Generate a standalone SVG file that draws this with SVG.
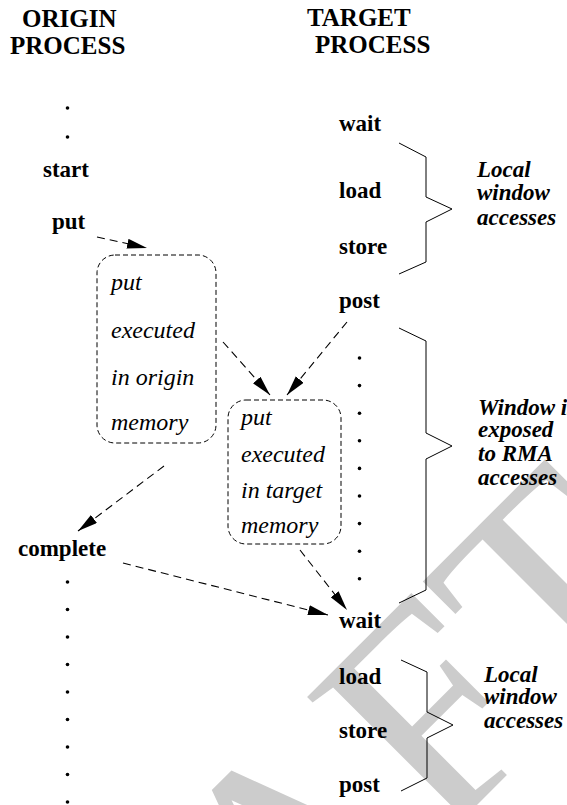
<svg xmlns="http://www.w3.org/2000/svg" width="567" height="805" viewBox="0 0 567 805" font-family="'Liberation Serif', 'Times New Roman', Times, serif">
<style>
text{font-family:'Liberation Serif','Times New Roman',Times,serif}
.hdr{font-weight:bold;font-size:25px;fill:#000}
.lbl{font-weight:bold;font-size:23px;fill:#000}
.it{font-style:italic;font-size:24px;fill:#000}
.bi{font-style:italic;font-weight:bold;font-size:23px;fill:#000}
.box{fill:none;stroke:#000;stroke-width:1;stroke-dasharray:5 3}
.dash{fill:none;stroke:#000;stroke-width:1.1;stroke-dasharray:8 5}
.brace{fill:none;stroke:#000;stroke-width:1}
.dot{fill:#000}
.wm{font-size:300px;fill:#cccccc}
</style>
<defs>
<marker id="ah" markerUnits="userSpaceOnUse" markerWidth="22" markerHeight="11" refX="20" refY="5" orient="auto">
<path d="M0,0 L20,5 L0,10 Z" fill="#000"/>
</marker>
</defs>
<g id="watermark">
<text class="wm" transform="translate(-8,1290) rotate(-45)">DRAFT</text>
</g>
<g id="headers">
<text class="hdr" x="22" y="27">ORIGIN</text>
<text class="hdr" x="10" y="54">PROCESS</text>
<text class="hdr" x="307" y="26">TARGET</text>
<text class="hdr" x="315" y="53">PROCESS</text>
</g>
<g id="origin-column">
<circle class="dot" cx="67.5" cy="108" r="1.8"/>
<circle class="dot" cx="67.5" cy="137" r="1.8"/>
<text class="lbl" x="43" y="177">start</text>
<text class="lbl" x="52" y="229">put</text>
<text class="lbl" x="18" y="556">complete</text>
<circle class="dot" cx="67.5" cy="582" r="1.8"/>
<circle class="dot" cx="67.5" cy="609.5" r="1.8"/>
<circle class="dot" cx="67.5" cy="637" r="1.8"/>
<circle class="dot" cx="67.5" cy="664.5" r="1.8"/>
<circle class="dot" cx="67.5" cy="692" r="1.8"/>
<circle class="dot" cx="67.5" cy="719.5" r="1.8"/>
<circle class="dot" cx="67.5" cy="747" r="1.8"/>
<circle class="dot" cx="67.5" cy="774.5" r="1.8"/>
<circle class="dot" cx="67.5" cy="802" r="1.8"/>
</g>
<g id="target-column">
<text class="lbl" x="339" y="131">wait</text>
<text class="lbl" x="339" y="198">load</text>
<text class="lbl" x="339" y="254">store</text>
<text class="lbl" x="339" y="308">post</text>
<circle class="dot" cx="359.5" cy="358" r="1.8"/>
<circle class="dot" cx="359.5" cy="385.6" r="1.8"/>
<circle class="dot" cx="359.5" cy="413.2" r="1.8"/>
<circle class="dot" cx="359.5" cy="440.8" r="1.8"/>
<circle class="dot" cx="359.5" cy="468.4" r="1.8"/>
<circle class="dot" cx="359.5" cy="496" r="1.8"/>
<circle class="dot" cx="359.5" cy="523.6" r="1.8"/>
<circle class="dot" cx="359.5" cy="551.2" r="1.8"/>
<circle class="dot" cx="359.5" cy="578.8" r="1.8"/>
<text class="lbl" x="339" y="628">wait</text>
<text class="lbl" x="339" y="684">load</text>
<text class="lbl" x="339" y="738">store</text>
<text class="lbl" x="339" y="792">post</text>
</g>
<g id="box-origin">
<rect class="box" x="97" y="255" width="119" height="188" rx="18" ry="18"/>
<text class="it" x="111" y="290">put</text>
<text class="it" x="111" y="338">executed</text>
<text class="it" x="111" y="385">in origin</text>
<text class="it" x="111" y="430">memory</text>
</g>
<g id="box-target">
<rect class="box" x="228" y="400" width="113" height="144" rx="18" ry="18"/>
<text class="it" x="241" y="425">put</text>
<text class="it" x="241" y="462">executed</text>
<text class="it" x="241" y="498">in target</text>
<text class="it" x="241" y="533">memory</text>
</g>
<g id="brace-top">
<path class="brace" d="M399,143 L426,157 L426,197 L452,209 L426,222 L426,262 L399,274"/>
<text class="bi" x="477" y="177">Local</text>
<text class="bi" x="477" y="200">window</text>
<text class="bi" x="477" y="225">accesses</text>
</g>
<g id="brace-middle">
<path class="brace" d="M399,328 L426,341 L426,433 L452,446 L426,459 L426,590 L399,603"/>
<text class="bi" x="478" y="415">Window is</text>
<text class="bi" x="478" y="437">exposed</text>
<text class="bi" x="478" y="461">to RMA</text>
<text class="bi" x="478" y="485">accesses</text>
</g>
<g id="brace-bottom">
<path class="brace" d="M401,660 L427,672 L427,712 L453,725 L427,738 L427,778 L401,791"/>
<text class="bi" x="484" y="682">Local</text>
<text class="bi" x="484" y="704">window</text>
<text class="bi" x="484" y="728">accesses</text>
</g>
<g id="connectors">
<path class="dash" d="M97,237 L147,248" marker-end="url(#ah)"/>
<path class="dash" d="M223,342 L270,395" marker-end="url(#ah)"/>
<path class="dash" d="M347,322 L287,395" marker-end="url(#ah)"/>
<path class="dash" d="M164,466 L78,531" marker-end="url(#ah)"/>
<path class="dash" d="M300,550 L347,610" marker-end="url(#ah)"/>
<path class="dash" d="M123,563 L328,615" marker-end="url(#ah)"/>
</g>
</svg>
